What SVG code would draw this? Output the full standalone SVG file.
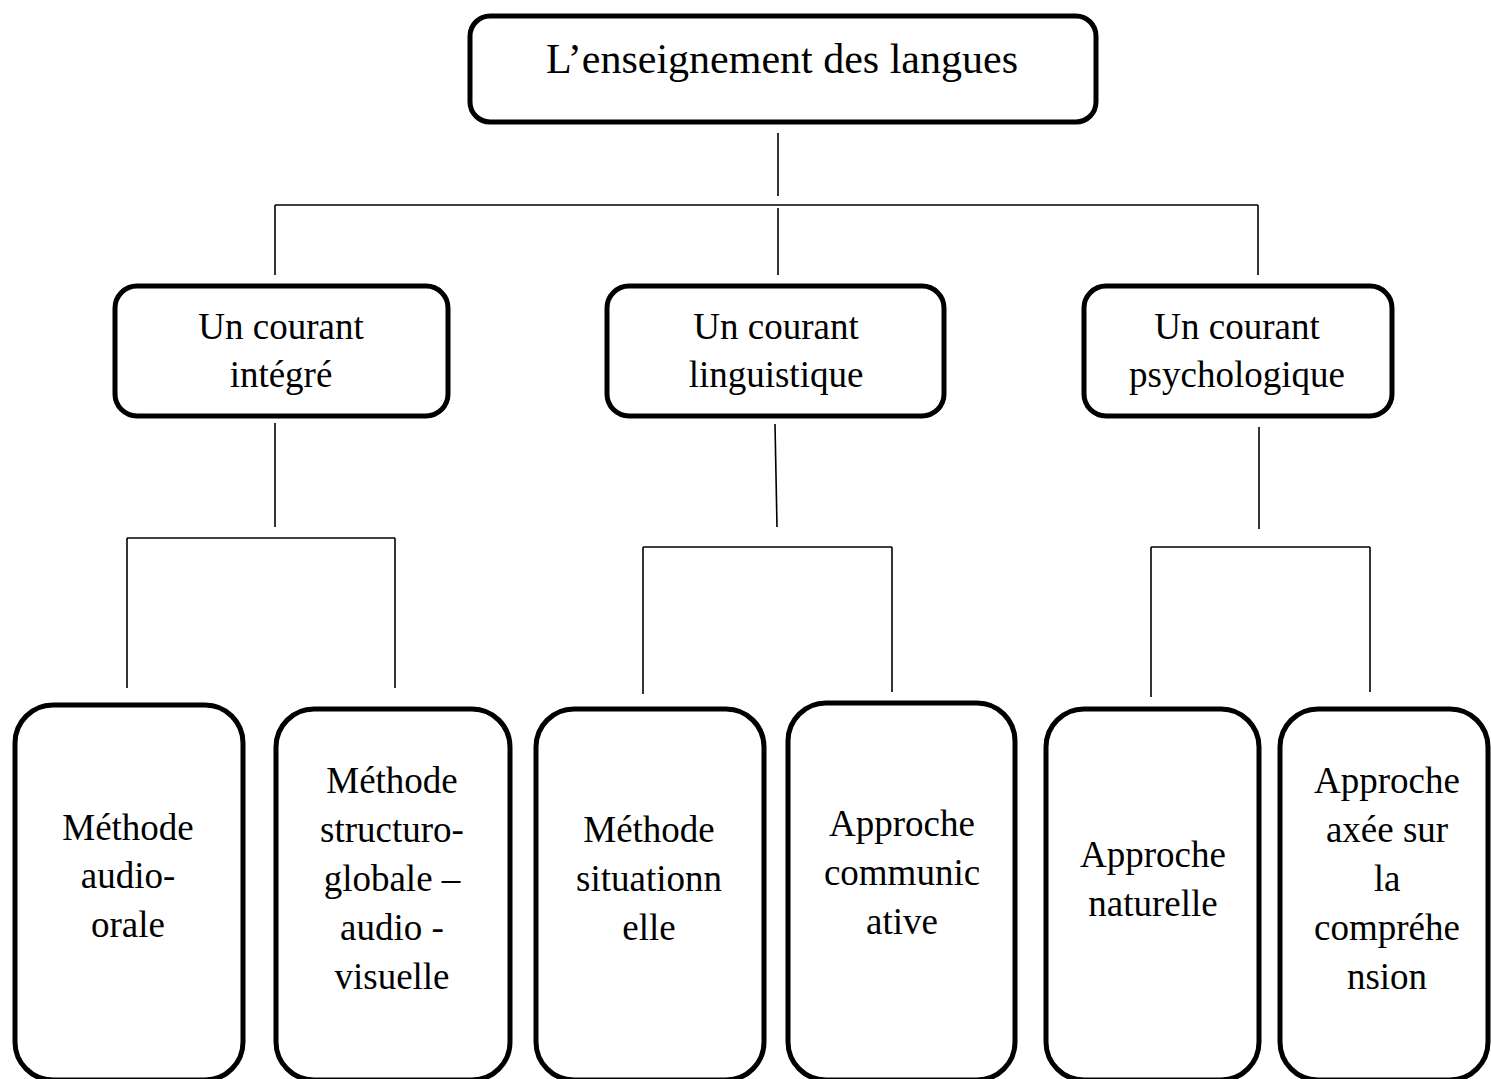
<svg xmlns="http://www.w3.org/2000/svg" width="1491" height="1079" viewBox="0 0 1491 1079">
<style>
.box{fill:#fff;stroke:#000;stroke-width:5}
.t{font-family:"Liberation Serif","Times New Roman",serif;font-size:37px;fill:#000;text-anchor:middle}
.big{font-size:42px}
.c line{stroke:#000;stroke-width:1.6;fill:none}
</style>
<rect width="1491" height="1079" fill="#fff"/>
<g class="c" id="connectors">
<line x1="778" y1="133" x2="778" y2="196"/>
<line x1="275" y1="205" x2="1258" y2="205"/>
<line x1="275" y1="205" x2="275" y2="275"/>
<line x1="778" y1="208" x2="778" y2="275"/>
<line x1="1258" y1="205" x2="1258" y2="275"/>
<line x1="275" y1="423" x2="275" y2="527"/>
<line x1="127" y1="538" x2="395" y2="538"/>
<line x1="127" y1="538" x2="127" y2="688"/>
<line x1="395" y1="538" x2="395" y2="688"/>
<line x1="775" y1="424" x2="777" y2="527"/>
<line x1="643" y1="547" x2="892" y2="547"/>
<line x1="643" y1="547" x2="643" y2="694"/>
<line x1="892" y1="547" x2="892" y2="692"/>
<line x1="1259" y1="427" x2="1259" y2="529"/>
<line x1="1151" y1="547" x2="1370" y2="547"/>
<line x1="1151" y1="547" x2="1151" y2="697"/>
<line x1="1370" y1="547" x2="1370" y2="692"/>
</g>
<g id="n-root">
<rect class="box" x="470" y="16" width="626" height="106" rx="20"/>
<text class="t big" x="782" y="73">L’enseignement des langues</text>
</g>
<g id="n-integre">
<rect class="box" x="115" y="286" width="333" height="130" rx="22"/>
<text class="t" x="281" y="339">Un courant</text>
<text class="t" x="281" y="387">intégré</text>
</g>
<g id="n-linguistique">
<rect class="box" x="607" y="286" width="337" height="130" rx="22"/>
<text class="t" x="776" y="339">Un courant</text>
<text class="t" x="776" y="387">linguistique</text>
</g>
<g id="n-psycho">
<rect class="box" x="1084" y="286" width="308" height="130" rx="22"/>
<text class="t" x="1237" y="339">Un courant</text>
<text class="t" x="1237" y="387">psychologique</text>
</g>
<g id="n-audio-orale">
<rect class="box" x="15" y="705" width="228" height="375" rx="38"/>
<text class="t" x="128" y="840">Méthode</text>
<text class="t" x="128" y="888">audio-</text>
<text class="t" x="128" y="937">orale</text>
</g>
<g id="n-sgav">
<rect class="box" x="276" y="709" width="234" height="371" rx="38"/>
<text class="t" x="392" y="793">Méthode</text>
<text class="t" x="392" y="842">structuro-</text>
<text class="t" x="392" y="891">globale –</text>
<text class="t" x="392" y="940">audio -</text>
<text class="t" x="392" y="989">visuelle</text>
</g>
<g id="n-situationnelle">
<rect class="box" x="536" y="709" width="228" height="371" rx="38"/>
<text class="t" x="649" y="842">Méthode</text>
<text class="t" x="649" y="891">situationn</text>
<text class="t" x="649" y="940">elle</text>
</g>
<g id="n-communicative">
<rect class="box" x="788" y="703" width="227" height="377" rx="38"/>
<text class="t" x="902" y="836">Approche</text>
<text class="t" x="902" y="885">communic</text>
<text class="t" x="902" y="934">ative</text>
</g>
<g id="n-naturelle">
<rect class="box" x="1046" y="709" width="213" height="371" rx="38"/>
<text class="t" x="1153" y="867">Approche</text>
<text class="t" x="1153" y="916">naturelle</text>
</g>
<g id="n-comprehension">
<rect class="box" x="1280" y="709" width="208" height="371" rx="38"/>
<text class="t" x="1387" y="793">Approche</text>
<text class="t" x="1387" y="842">axée sur</text>
<text class="t" x="1387" y="891">la</text>
<text class="t" x="1387" y="940">compréhe</text>
<text class="t" x="1387" y="989">nsion</text>
</g>
</svg>
